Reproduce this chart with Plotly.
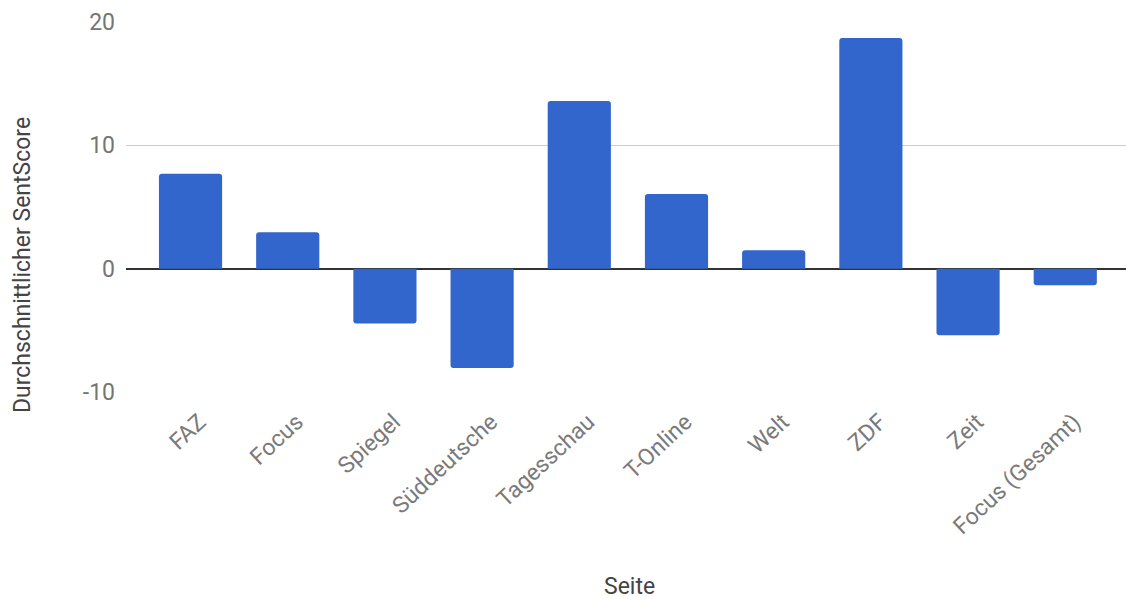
import plotly.graph_objects as go

categories = ["FAZ", "Focus", "Spiegel", "Süddeutsche", "Tagesschau",
              "T-Online", "Welt", "ZDF", "Zeit", "Focus (Gesamt)"]
sent_score = [7.7, 2.95, -4.45, -8.05, 13.6, 6.05, 1.5, 18.7, -5.4, -1.35]

x_title = "Seite"
y_title = "Durchschnittlicher SentScore"
y_ticks = [-10, 0, 10, 20]

W, H = 1126, 599
L, R, T, B = 126, 0, 22, 207
FS = 23

fig = go.Figure()
fig.add_trace(go.Bar(
    x=list(range(len(categories))),
    y=sent_score,
    marker=dict(color="#3366CC", line=dict(width=0), cornerradius=3),
    width=0.65,
    hoverinfo="x+y",
))

fig.update_layout(
    width=W, height=H,
    margin=dict(l=L, r=R, t=T, b=B, pad=0),
    paper_bgcolor="white",
    plot_bgcolor="white",
    font=dict(family="Roboto", size=FS, color="#757575"),
    showlegend=False,
    xaxis=dict(
        tickmode="array",
        tickvals=list(range(len(categories))),
        ticktext=categories,
        range=[-0.664, 9.625],
        tickangle=-43,
        showgrid=False,
        zeroline=False,
        showline=False,
        ticks="",
        ticklabelshift=9,
        ticklabelstandoff=11,
        tickfont=dict(family="Roboto", size=FS, color="#7a7a7a"),
        automargin=False,
        fixedrange=True,
    ),
    yaxis=dict(
        range=[-10, 20],
        tickmode="array",
        tickvals=y_ticks,
        ticktext=[str(v) for v in y_ticks],
        showgrid=True,
        gridcolor="#CCCCCC",
        gridwidth=1,
        zeroline=True,
        zerolinecolor="#333333",
        zerolinewidth=1.5,
        showline=False,
        ticks="",
        ticklabelstandoff=10,
        tickfont=dict(family="Roboto", size=FS, color="#757575"),
        automargin=False,
        fixedrange=True,
    ),
    annotations=[
        dict(text=x_title, xref="paper", yref="paper", x=0.503, y=0,
             yshift=-194, xanchor="center", yanchor="middle", showarrow=False,
             font=dict(family="Roboto", size=FS, color="#444444")),
        dict(text=y_title, xref="paper", yref="paper", x=0, y=0.343,
             xshift=-104, xanchor="center", yanchor="middle", textangle=-90,
             showarrow=False,
             font=dict(family="Roboto", size=FS, color="#444444")),
    ],
)

fig.write_html("out.html", config={"displayModeBar": False})
